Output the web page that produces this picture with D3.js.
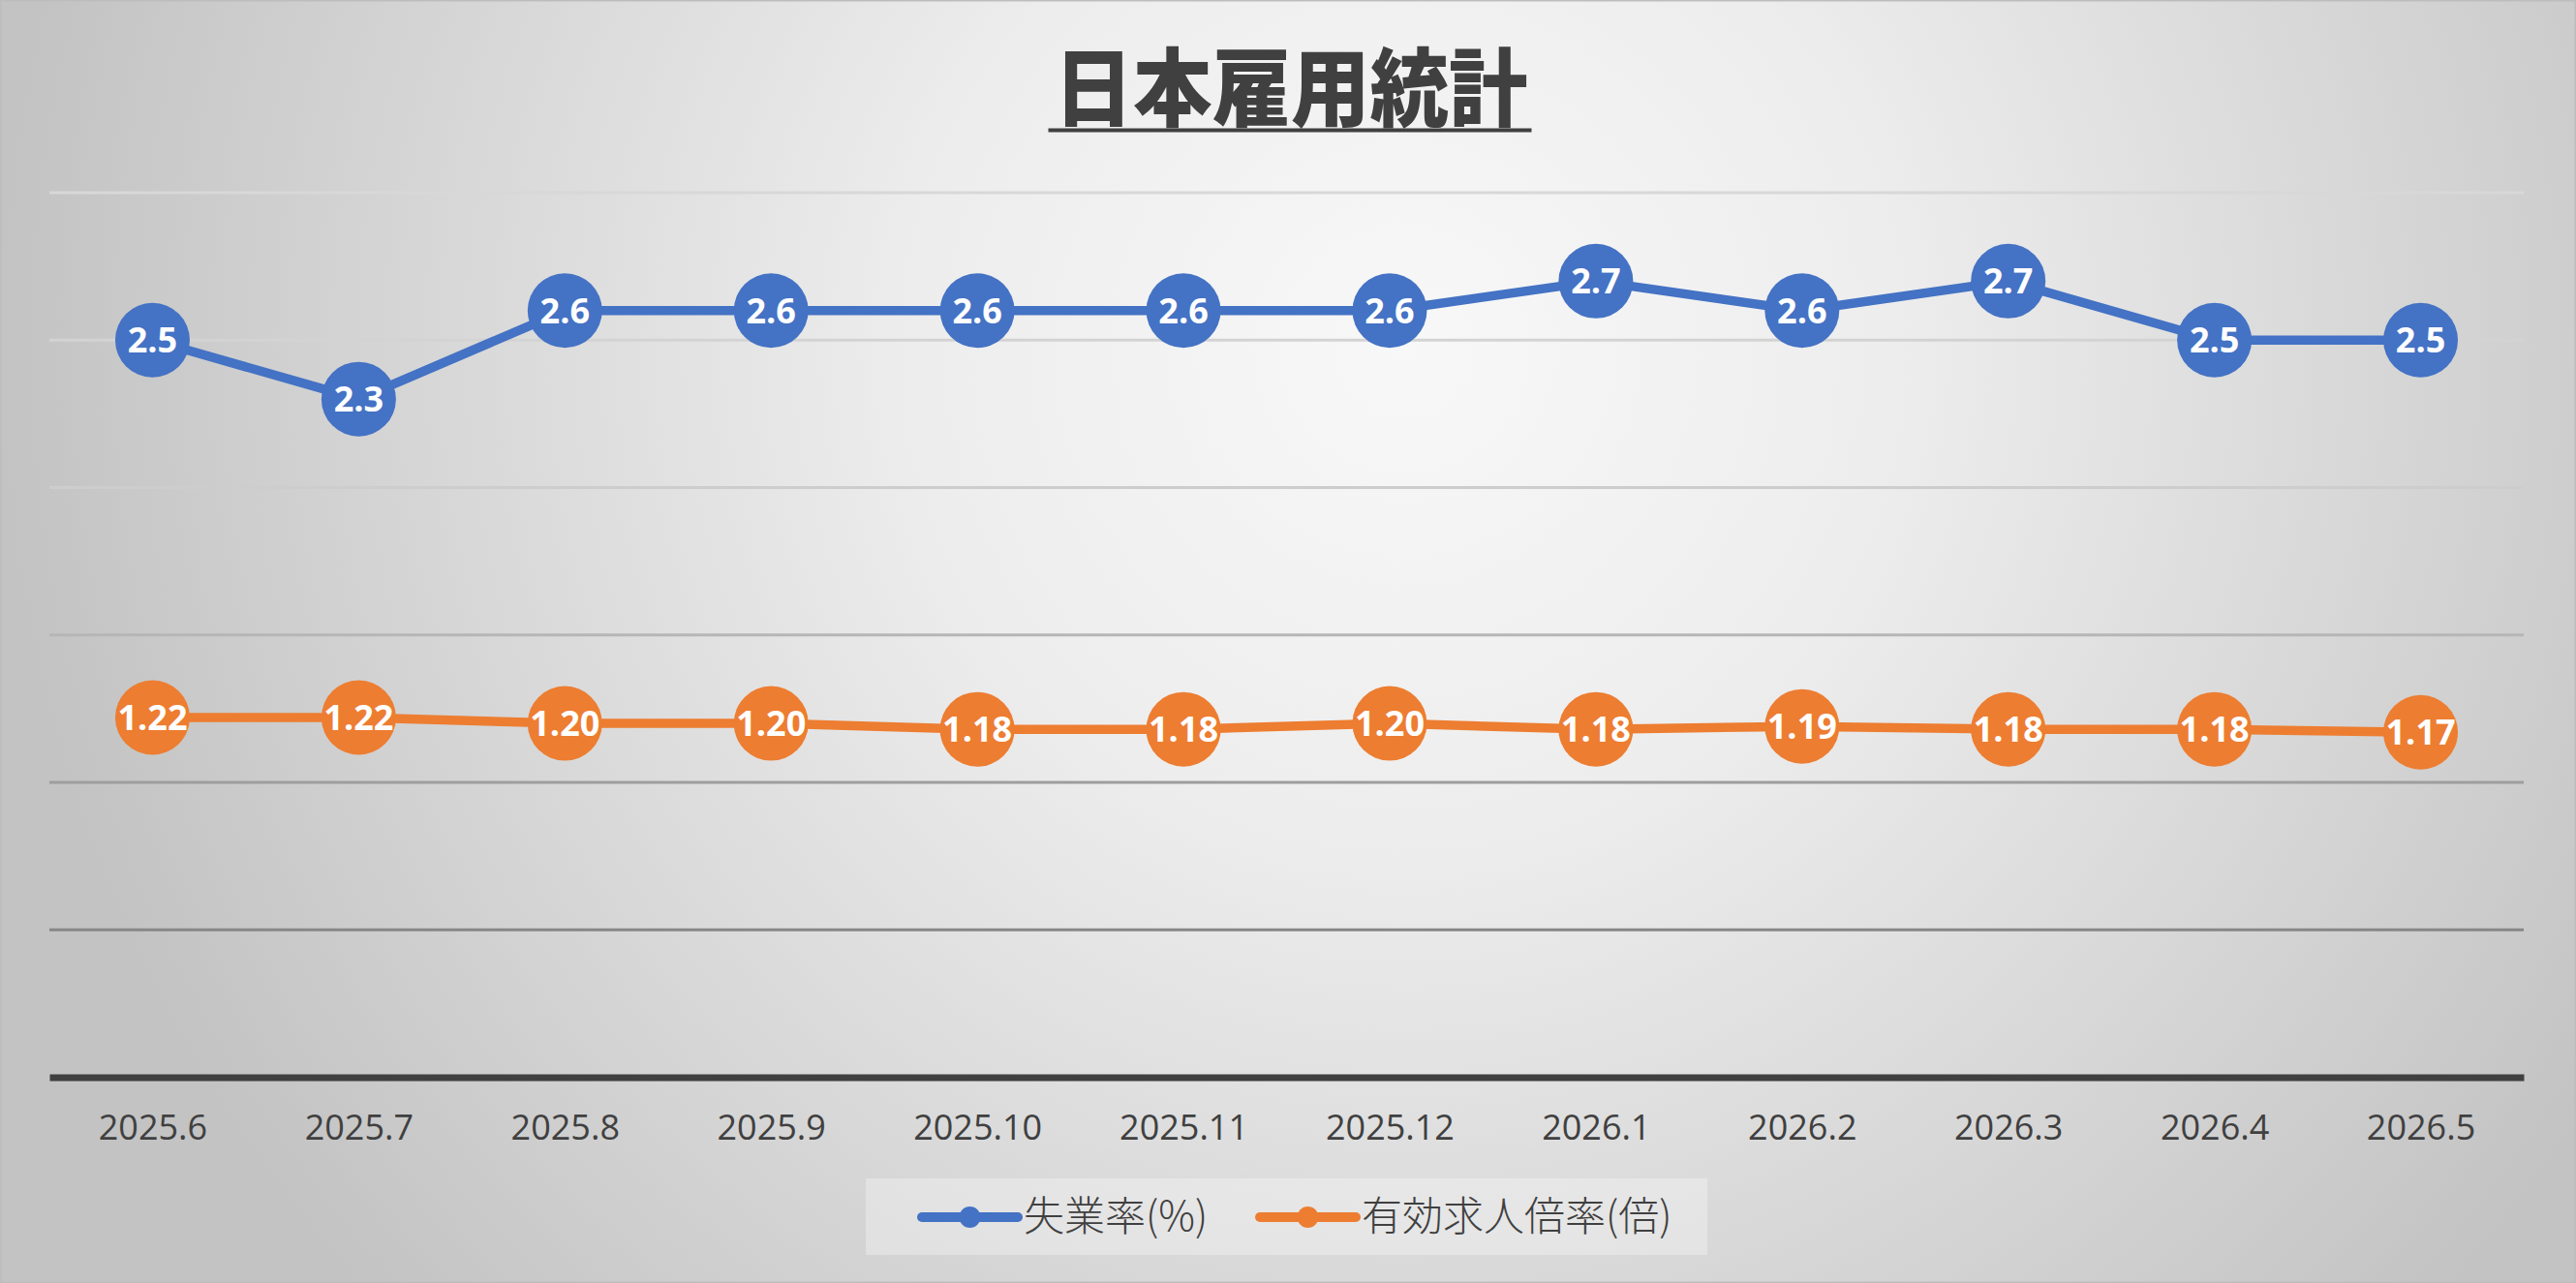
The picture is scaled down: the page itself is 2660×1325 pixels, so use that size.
<!DOCTYPE html>
<html>
<head>
<meta charset="utf-8">
<script src="https://cdn.jsdelivr.net/npm/d3@7"></script>
<style>
  html, body { margin: 0; padding: 0; background: #fff; }
  svg { display: block; }
</style>
</head>
<body>
<div id="chart"></div>
<script>

// data
var months = ["2025.6", "2025.7", "2025.8", "2025.9", "2025.10", "2025.11",
              "2025.12", "2026.1", "2026.2", "2026.3", "2026.4", "2026.5"];
var unemployment = [2.5, 2.3, 2.6, 2.6, 2.6, 2.6, 2.6, 2.7, 2.6, 2.7, 2.5, 2.5];
var jobRatio = [1.22, 1.22, 1.20, 1.20, 1.18, 1.18, 1.20, 1.18, 1.19, 1.18, 1.18, 1.17];
var yTicks = [0, 0.5, 1, 1.5, 2, 2.5, 3];
var seriesNames = ["失業率(%)", "有効求人倍率(倍)"];

var W = 2660, H = 1325;
var blue = "#4472C4", orange = "#ED7D31", ink = "#404040";

var svg = d3.select("#chart")
    .append("svg")
    .attr("width", W)
    .attr("height", H);

/* background: soft radial gradient */
var defs = svg.append("defs");
var bg = defs.append("radialGradient")
    .attr("id", "bg")
    .attr("gradientUnits", "userSpaceOnUse")
    .attr("cx", 1450).attr("cy", 360).attr("r", 1450);
bg.append("stop").attr("offset", "0").attr("stop-color", "#f8f8f8");
bg.append("stop").attr("offset", "0.35").attr("stop-color", "#ededed");
bg.append("stop").attr("offset", "1").attr("stop-color", "#c3c3c3");

svg.append("rect")
    .attr("width", W).attr("height", H)
    .attr("fill", "url(#bg)")
    .attr("stroke", "#bdbdbd")
    .attr("stroke-width", 3);

var x = d3.scalePoint()
    .domain(months)
    .range([51, 2606])
    .padding(0.5);

var y = d3.scaleLinear()
    .domain([0, 3])
    .range([1112.5, 199]);

// gridlines get darker towards the bottom
var gridColor = d3.scaleLinear()
    .domain([3, 2, 0.5])
    .range(["#d8d8d8", "#cdcdcd", "#878787"]);

svg.append("g")
    .selectAll("line")
    .data(yTicks.filter(function(d){ return d > 0; }))
    .join("line")
    .attr("x1", 51).attr("x2", 2606)
    .attr("y1", function(d){ return y(d); })
    .attr("y2", function(d){ return y(d); })
    .attr("stroke", function(d){ return gridColor(d); })
    .attr("stroke-width", 3);

/* x axis */
var xAxis = svg.append("g")
    .attr("transform", "translate(0," + y(0) + ")")
    .call(d3.axisBottom(x).tickSize(0).tickSizeOuter(0).tickPadding(39));

xAxis.select(".domain")
    .attr("stroke", ink)
    .attr("stroke-width", 7);

xAxis.selectAll("text")
    .attr("fill", ink)
    .style("font-family", "'Open Sans', sans-serif")
    .style("font-size", "36px");

/* series */
var series = [
    {name: seriesNames[0], values: unemployment, color: blue, fmt: d3.format(".1f")},
    {name: seriesNames[1], values: jobRatio, color: orange, fmt: d3.format(".2f")}
];

var line = d3.line()
    .x(function(d, i){ return x(months[i]); })
    .y(function(d){ return y(d); });

series.forEach(function(s){
    var g = svg.append("g");

    g.append("path")
        .datum(s.values)
        .attr("d", line)
        .attr("fill", "none")
        .attr("stroke", s.color)
        .attr("stroke-width", 9.5)
        .attr("stroke-linejoin", "round");

    var pts = g.selectAll("g.pt")
        .data(s.values)
        .join("g")
        .attr("class", "pt")
        .attr("transform", function(d, i){ return "translate(" + x(months[i]) + "," + y(d) + ")"; });

    pts.append("circle")
        .attr("r", 38.5)
        .attr("fill", s.color);

    pts.append("text")
        .attr("text-anchor", "middle")
        .attr("dy", "0.36em")
        .attr("fill", "#fff")
        .style("font-family", "'Open Sans', sans-serif")
        .style("font-weight", "bold")
        .style("font-size", "36px")
        .text(function(d){ return s.fmt(d); });
});

/* title */
var title = svg.append("text")
    .attr("x", 1333)
    .attr("y", 123)
    .attr("text-anchor", "middle")
    .attr("fill", ink)
    .attr("textLength", 489)
    .attr("lengthAdjust", "spacingAndGlyphs")
    .style("font-family", "'Noto Sans CJK JP', sans-serif")
    .style("font-weight", 900)
    .style("font-size", "88px")
    .text("日本雇用統計");

var tb = title.node().getBBox();
svg.append("line")
    .attr("x1", tb.x - 6).attr("x2", tb.x + tb.width + 4)
    .attr("y1", 134.5).attr("y2", 134.5)
    .attr("stroke", ink)
    .attr("stroke-width", 4);

/* legend */
var legend = svg.append("g");

legend.append("rect")
    .attr("x", 894).attr("y", 1217)
    .attr("width", 869).attr("height", 79)
    .attr("fill", "#fff")
    .attr("fill-opacity", 0.3);

var legendX = [952, 1301];

var items = legend.selectAll("g.item")
    .data(series)
    .join("g")
    .attr("class", "item")
    .attr("transform", function(d, i){ return "translate(" + legendX[i] + ",1257)"; });

items.append("line")
    .attr("x1", 0).attr("x2", 99)
    .attr("stroke", function(d){ return d.color; })
    .attr("stroke-width", 10)
    .attr("stroke-linecap", "round");

items.append("circle")
    .attr("cx", 49.5)
    .attr("r", 11)
    .attr("fill", function(d){ return d.color; });

items.append("text")
    .attr("x", 105)
    .attr("dy", "0.33em")
    .attr("fill", ink)
    .style("font-family", "'Noto Sans CJK JP', sans-serif")
    .style("font-weight", 300)
    .style("font-size", "42px")
    .text(function(d){ return d.name; });

</script>
</body>
</html>
